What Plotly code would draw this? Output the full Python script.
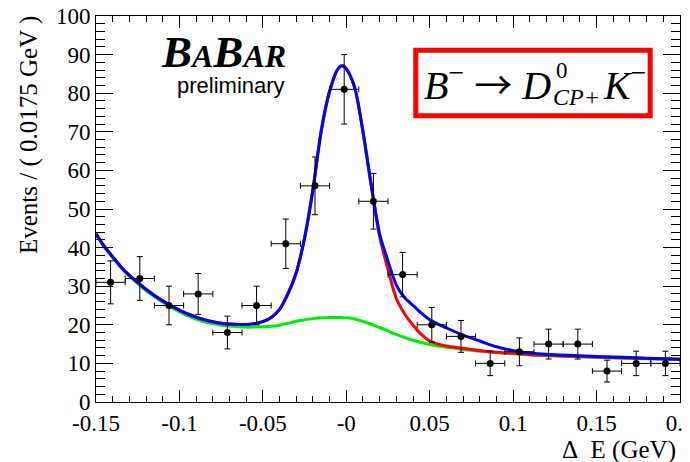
import plotly.graph_objects as go

# ---------------- data ----------------
bin_centers = [-0.14125, -0.12375, -0.10625, -0.08875, -0.07125, -0.05375, -0.03625,
               -0.01875, -0.00125, 0.01625, 0.03375, 0.05125, 0.06875, 0.08625,
               0.10375, 0.12125, 0.13875, 0.15625, 0.17375, 0.19125]
events = [31, 32, 25, 28, 18, 25, 41, 56, 81, 52, 33, 20, 17, 10, 13, 15, 15, 8, 10, 10]
bin_half_width = 0.00875

curve_x = [-0.150, -0.145, -0.140, -0.135, -0.130, -0.125, -0.120, -0.115, -0.110, -0.105,
           -0.100, -0.095, -0.090, -0.085, -0.080, -0.075, -0.070, -0.065, -0.060, -0.055,
           -0.050, -0.045, -0.040, -0.035, -0.030, -0.025, -0.020, -0.015, -0.010, -0.005,
           -0.0025, 0.000, 0.005, 0.010, 0.015, 0.020, 0.025, 0.030, 0.035, 0.040,
           0.045, 0.050, 0.055, 0.060, 0.070, 0.080, 0.090, 0.100, 0.110, 0.120,
           0.140, 0.160, 0.180, 0.200]
total_y = [43.6, 40.3, 37.6, 35.0, 32.8, 31.0, 29.2, 27.6, 26.2, 24.9,
           23.8, 22.8, 22.0, 21.3, 20.8, 20.4, 20.2, 20.1, 20.1, 20.3,
           20.8, 21.9, 24.0, 28.0, 33.5, 42.5, 55.0, 70.3, 80.5, 86.3,
           87.1, 86.3, 81.5, 70.0, 56.2, 43.5, 36.5, 30.3, 27.0, 25.0,
           23.0, 21.3, 20.2, 19.2, 17.3, 15.8, 14.3, 13.3, 12.7, 12.35,
           11.95, 11.65, 11.35, 11.1]
red_y = [43.6, 40.3, 37.6, 35.0, 32.8, 31.0, 29.2, 27.6, 26.2, 24.9,
         23.8, 22.8, 22.0, 21.3, 20.8, 20.4, 20.2, 20.1, 20.1, 20.3,
         20.8, 21.9, 24.0, 28.0, 33.5, 42.5, 55.0, 70.3, 80.5, 86.3,
         87.1, 86.3, 81.5, 70.0, 55.8, 42.8, 34.3, 26.8, 22.8, 19.9,
         17.5, 15.8, 15.0, 14.5, 13.9, 13.3, 12.9, 12.6, 12.3, 12.1,
         11.8, 11.5, 11.25, 11.05]
bkg_y = [43.4, 40.1, 37.4, 34.8, 32.6, 30.7, 28.9, 27.3, 25.9, 24.5,
         23.4, 22.3, 21.5, 20.8, 20.3, 19.9, 19.7, 19.5, 19.4, 19.4,
         19.5, 19.6, 19.9, 20.4, 20.9, 21.3, 21.6, 21.8, 21.9, 21.9,
         21.9, 21.8, 21.5, 20.9, 20.1, 19.3, 18.4, 17.5, 16.7, 16.0,
         15.4, 14.9, 14.5, 14.2, 13.6, 13.2, 12.8, 12.5, 12.2, 12.0,
         11.7, 11.4, 11.2, 11.0]

x_tick_vals = [-0.15, -0.10, -0.05, 0.0, 0.05, 0.10, 0.15, 0.20]
x_tick_text = ["-0.15", "-0.1", "-0.05", "-0", "0.05", "0.1", "0.15", "0.2"]
y_tick_vals = [0, 10, 20, 30, 40, 50, 60, 70, 80, 90, 100]
y_tick_text = [str(v) for v in y_tick_vals]

# ---------------- geometry (page pixels) ----------------
PAGE_W, PAGE_H = 690, 462
BODY = 8  # default page body margin
PL, PR, PT, PB = 96, 680, 16, 402
W, H = PAGE_W - BODY, PAGE_H - BODY


def px(x, y):
    return (x - PL) / (PR - PL), (PB - y) / (PB - PT)


SERIF = "Liberation Serif"
SANS = "Liberation Sans"

fig = go.Figure()
fig.add_trace(go.Scatter(x=curve_x, y=bkg_y, mode="lines", line=dict(color="#00ee00", width=3, shape="spline", smoothing=0.8), hoverinfo="skip"))
fig.add_trace(go.Scatter(x=curve_x, y=red_y, mode="lines", line=dict(color="#ff0000", width=3, shape="spline", smoothing=0.8), hoverinfo="skip"))
fig.add_trace(go.Scatter(x=curve_x, y=total_y, mode="lines", line=dict(color="#0000ff", width=3, shape="spline", smoothing=0.8), hoverinfo="skip"))

errs = [v ** 0.5 for v in events]
fig.add_trace(go.Scatter(
    x=bin_centers, y=events, mode="markers",
    marker=dict(color="black", size=7),
    error_y=dict(type="data", array=errs, color="black", thickness=1, width=3),
    error_x=dict(type="constant", value=bin_half_width, color="black", thickness=1, width=3),
))

axis_font = dict(family=SERIF, size=23, color="black")
fig.update_xaxes(
    range=[-0.15, 0.2], tickmode="array", tickvals=x_tick_vals, ticktext=x_tick_text,
    ticks="inside", ticklen=12, tickcolor="black", tickwidth=1,
    minor=dict(ticks="inside", ticklen=6, tickcolor="black", tickmode="linear", tick0=-0.15, dtick=0.01),
    showline=True, linecolor="black", linewidth=1, mirror="allticks",
    showgrid=False, zeroline=False, tickfont=axis_font, automargin=False,
    ticklabeloverflow="allow",
)
fig.update_yaxes(
    range=[0, 100], tickmode="array", tickvals=y_tick_vals, ticktext=y_tick_text,
    ticks="inside", ticklen=17, tickcolor="black", tickwidth=1,
    minor=dict(ticks="inside", ticklen=9, tickcolor="black", tickmode="linear", tick0=0, dtick=2),
    showline=True, linecolor="black", linewidth=1, mirror="allticks",
    showgrid=False, zeroline=False, tickfont=axis_font, automargin=False,
    ticklabeloverflow="allow",
)

ann = []
# axis titles
x0, y0 = px(678, 450)
ann.append(dict(text="Δ\u2002E (GeV)", x=x0, y=y0, xanchor="right", yanchor="middle",
                font=dict(family=SERIF, size=25, color="black")))
x0, y0 = px(29, 135)
ann.append(dict(text="Events / ( 0.0175 GeV )", x=x0, y=y0, textangle=-90,
                xanchor="center", yanchor="middle", font=dict(family=SERIF, size=25, color="black")))
# BaBar logo
x0, y0 = px(159, 52)
ann.append(dict(text="<b><i>B<span style='font-size:32px'>A</span>B<span style='font-size:32px'>AR</span></i></b>",
                x=x0, y=y0, xanchor="left", yanchor="middle", font=dict(family=SERIF, size=45, color="black")))
x0, y0 = px(287, 86)
ann.append(dict(text="preliminary", x=x0, y=y0, xanchor="right", yanchor="middle",
                font=dict(family=SANS, size=22, color="black")))
# decay label
x0, y0 = px(553, 82)
ann.append(dict(text="<i>B</i><sup>−</sup> <span style='font-family:Noto Sans CJK JP;font-size:38px'>→</span> <i>D</i>",
                x=x0, y=y0, xanchor="right", yanchor="middle",
                font=dict(family=SERIF, size=40, color="black")))
x0, y0 = px(554, 70)
ann.append(dict(text="0", x=x0, y=y0, xanchor="left", yanchor="middle",
                font=dict(family=SERIF, size=23, color="black")))
x0, y0 = px(551, 97)
ann.append(dict(text="<i>CP+</i>", x=x0, y=y0, xanchor="left", yanchor="middle",
                font=dict(family=SERIF, size=24, color="black")))
x0, y0 = px(601, 82)
ann.append(dict(text="<i>K</i><sup>−</sup>", x=x0, y=y0, xanchor="left", yanchor="middle",
                font=dict(family=SERIF, size=40, color="black")))
for a in ann:
    a.update(xref="paper", yref="paper", showarrow=False)

bx0, by0 = px(415.8, 115.8)
bx1, by1 = px(650.2, 50.2)
fig.add_shape(type="rect", xref="paper", yref="paper", x0=bx0, y0=by0, x1=bx1, y1=by1,
              line=dict(color="#ff0000", width=5), fillcolor="white", layer="below")

fig.update_layout(
    width=W, height=H, autosize=False,
    margin=dict(l=PL - BODY, r=PAGE_W - PR, t=PT - BODY, b=PAGE_H - PB, pad=0),
    paper_bgcolor="white", plot_bgcolor="white",
    showlegend=False, annotations=ann,
)
fig.write_html("out.html")
